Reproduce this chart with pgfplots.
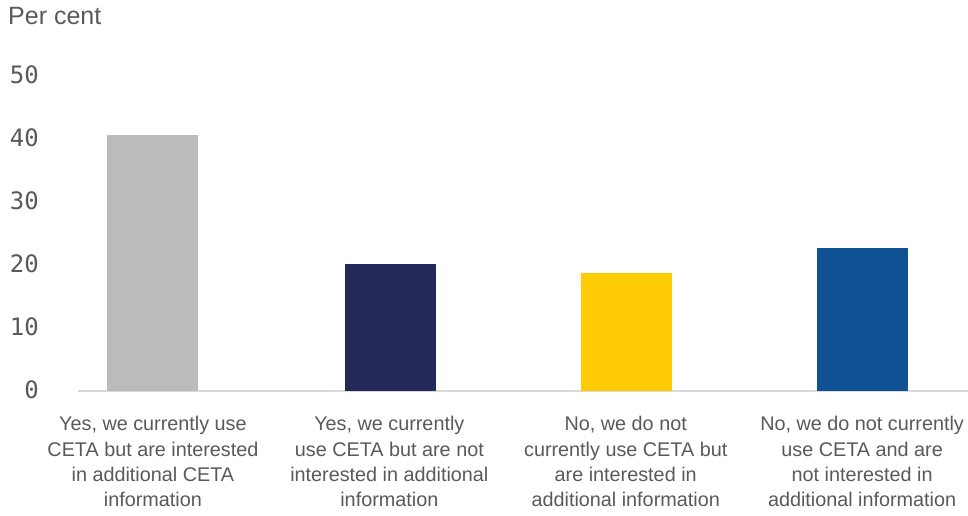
\documentclass[border=0pt]{standalone}
\usepackage{pgfplots}
\pgfplotsset{compat=1.18}
\usepackage{fontspec}
\setmainfont{Liberation Sans}
\newfontfamily\tickfont{DejaVu Sans Mono}
\definecolor{txt}{HTML}{595959}
\definecolor{cgray}{HTML}{BBBBBB}
\definecolor{cnavy}{HTML}{232A5A}
\definecolor{cyel}{HTML}{FFCB05}
\definecolor{cblue}{HTML}{0F5293}
\definecolor{base}{HTML}{D9D9D9}
\begin{document}
\begin{tikzpicture}[x=1pt,y=1pt]
\useasboundingbox (0,0) rectangle (968,516);
\begin{axis}[
  at={(78pt,125pt)}, anchor=south west,
  scale only axis, width=890pt, height=315pt,
  xmin=-0.317, xmax=3.448, ymin=0, ymax=50,
  ybar, bar width=0.385,
  axis x line*=bottom, axis y line*=left,
  x axis line style={draw=base, line width=1.2pt},
  y axis line style={draw=none},
  xtick={0,1,2,3},
  xticklabels={{Yes, we currently use\\CETA but are interested\\in additional CETA\\information},
               {Yes, we currently\\use CETA but are not\\interested in additional\\information},
               {No, we do not\\currently use CETA but\\are interested in\\additional information},
               {No, we do not currently\\use CETA and are\\not interested in\\additional information}},
  xticklabel style={align=center, font=\fontsize{19.8}{25.3}\selectfont, text=txt, yshift=-22pt},
  major tick length=0pt,
  ytick={0,10,20,30,40,50},
  /pgf/number format/assume math mode=true,
  yticklabel style={font=\tickfont\fontsize{24}{28}\selectfont, text=txt, inner sep=0pt, xshift=-39pt, yshift=1pt},
  clip=false,
]
\addplot[fill=cgray, draw=none, bar shift=0pt] coordinates {(0,40.6)};
\addplot[fill=cnavy, draw=none, bar shift=0pt] coordinates {(1.005,20.2)};
\addplot[fill=cyel, draw=none, bar shift=0pt] coordinates {(2.005,18.7)};
\addplot[fill=cblue, draw=none, bar shift=0pt] coordinates {(3,22.7)};
\end{axis}
\node[anchor=base west, inner sep=0pt, text=txt, font=\fontsize{25}{29}\selectfont] at (8,491) {Per cent};
\end{tikzpicture}
\end{document}
